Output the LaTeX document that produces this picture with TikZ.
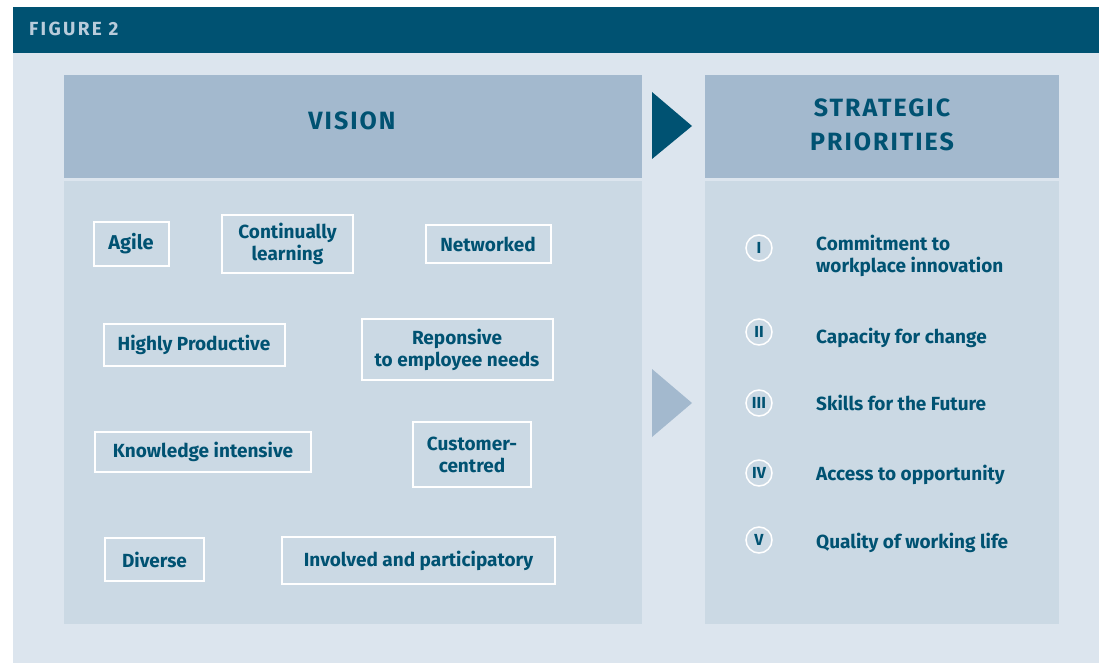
\documentclass[tikz,border=0pt]{standalone}
\usepackage{fontspec}
\setmainfont{Fira Sans}
\newfontfamily\spacedfont[LetterSpace=8]{Fira Sans}
\newfontfamily\widefont[LetterSpace=12]{Fira Sans}
\usetikzlibrary{positioning}
\definecolor{figdark}{HTML}{005272}
\definecolor{figgrey}{HTML}{B9CCDB}
\definecolor{figback}{HTML}{DCE5EE}
\definecolor{fighead}{HTML}{A3B9CE}
\definecolor{figpanel}{HTML}{CBD9E4}

\begin{document}
\begin{tikzpicture}[x=1pt,y=-1pt,
  word/.style={draw=white,line width=2pt,text=figdark,inner sep=0pt,align=center,
    font=\fontsize{19}{22}\selectfont\bfseries},
  title/.style={text=figdark,align=center,font=\spacedfont\fontsize{25}{34}\selectfont\bfseries},
  numeral/.style={circle,draw=white,line width=1.5pt,minimum size=26pt,inner sep=0pt,
    text=figdark,font=\fontsize{16}{16}\selectfont\bfseries},
  priority/.style={anchor=base west,align=left,text=figdark,inner sep=0pt,
    font=\fontsize{19}{22}\selectfont\bfseries}]
\useasboundingbox (0,0) rectangle (1099,663);
% background and header bar
\fill[figback] (13,53) rectangle (1099,663);
\fill[figdark] (13,7) rectangle (1099,53);
\node[anchor=base west,inner sep=0pt,text=figgrey,
  font=\widefont\fontsize{19}{19}\selectfont\bfseries] (figure) at (29,36) {FIGURE 2};
% panels
\fill[fighead] (64,75) rectangle (642,178);
\fill[figpanel] (64,181) rectangle (642,624);
\fill[fighead] (705,75) rectangle (1059,178);
\fill[figpanel] (705,181) rectangle (1059,624);
\node[title] (vision) at (352,121) {VISION};
\node[title] (strategic) at (882,125) {STRATEGIC\\PRIORITIES};
% arrows
\fill[figdark] (652,92) -- (692,126) -- (652,159) -- cycle;
\fill[fighead] (652,369) -- (692,403) -- (652,437) -- cycle;
% vision words
\node[word,minimum width=75pt,minimum height=44pt,font=\fontsize{20}{22}\selectfont\bfseries] (agile) at (131,244) {Agile};
\node[word,minimum width=131pt,minimum height=58pt] (learning) at (287.5,244) {Continually\\learning};
\node[word,minimum width=125pt,minimum height=38pt] (networked) at (488,244) {Networked};
\node[word,minimum width=181pt,minimum height=42pt] (productive) at (194,345) {Highly Productive};
\node[word,minimum width=191pt,minimum height=61pt] (responsive) at (457,349.5) {Reponsive\\to employee needs};
\node[word,minimum width=216pt,minimum height=40pt] (knowledge) at (203,452) {Knowledge intensive};
\node[word,minimum width=118pt,minimum height=65pt] (customer) at (472,454.5) {Customer-\\centred};
\node[word,minimum width=99pt,minimum height=43pt] (diverse) at (154.5,559.5) {Diverse};
\node[word,minimum width=273pt,minimum height=47pt] (involved) at (418.5,560.5) {Involved and participatory};
% strategic priorities
\foreach \y/\b/\n/\t [count=\i] in {248/272/I/{Commitment to\\workplace innovation},
    332/343/II/{Capacity for change}, 403/410/III/{Skills for the Future},
    473/480/IV/{Access to opportunity}, 540/548/V/{Quality of working life}} {
  \node[numeral] (num\i) at (759,\y) {\n};
  \node[priority] (prio\i) at (816,\b) {\t};
}
\end{tikzpicture}
\end{document}
